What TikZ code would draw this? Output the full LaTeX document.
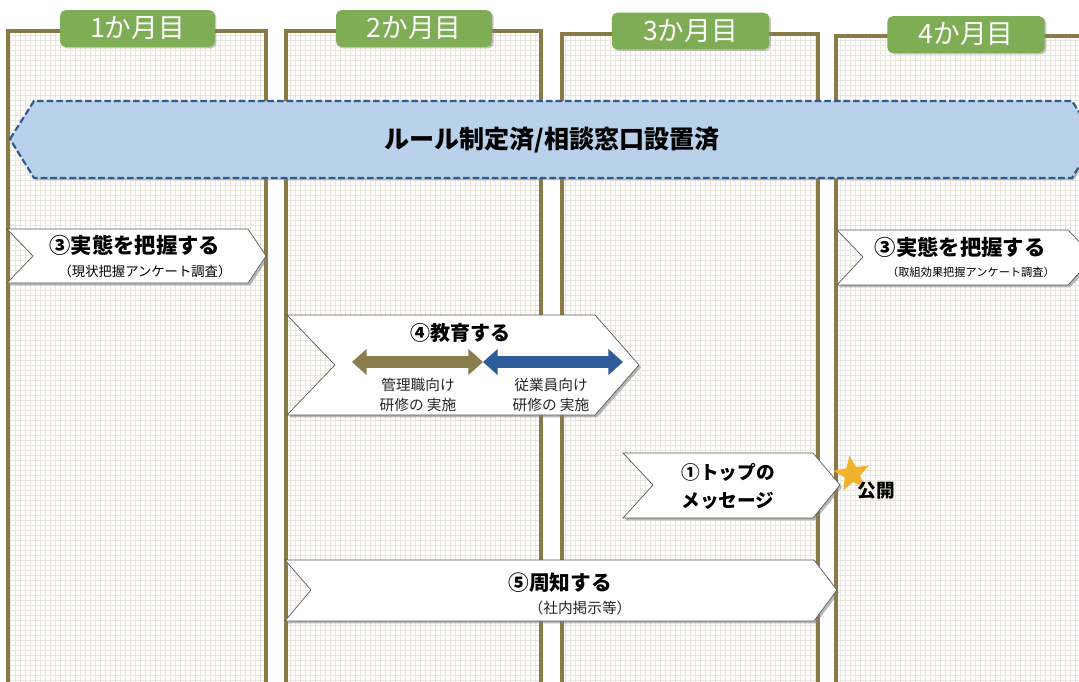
\documentclass[tikz,border=0pt]{standalone}
\usepackage{fontspec}
\setmainfont{Noto Sans CJK JP}
\usetikzlibrary{shadows,arrows.meta,shapes.geometric}
\definecolor{panelc}{HTML}{8A7A48}
\definecolor{gridc}{HTML}{EAE6DB}
\definecolor{tabg}{HTML}{7FAD55}
\definecolor{bannerf}{HTML}{B9D1EA}
\definecolor{bannerd}{HTML}{2E5B92}
\definecolor{brownarr}{HTML}{8B7D4E}
\definecolor{bluearr}{HTML}{2E5B9A}
\definecolor{starc}{HTML}{F2B22B}
\definecolor{chevd}{HTML}{555555}
\tikzset{
  panelline/.style={panelc, line width=2.4pt},
  tab/.style={fill=tabg, rounded corners=4pt, text=white, minimum height=27.5pt,
    inner sep=0pt, font=\fontsize{20}{22}\selectfont,
    drop shadow={shadow xshift=1.2pt, shadow yshift=-1.2pt, opacity=0.45}},
  banner/.style={fill=bannerf, draw=bannerd, line width=1.6pt, dash pattern=on 5pt off 2.2pt,
    drop shadow={shadow xshift=1.5pt, shadow yshift=-1.5pt, opacity=0.5}},
  chev/.style={fill=white, draw=chevd, line width=0.5pt,
    drop shadow={shadow xshift=1.5pt, shadow yshift=-1.8pt, opacity=0.55}},
  ttl/.style={inner sep=0pt, font=\bfseries\fontsize{16}{18}\selectfont},
  sub/.style={inner sep=0pt, font=\fontsize{10}{12}\selectfont},
  small/.style={inner sep=0pt, font=\fontsize{11}{15}\selectfont, text=black!85},
  dbl/.style={line width=9pt, {Triangle[width=19pt,length=11pt]}-{Triangle[width=19pt,length=11pt]}}
}
\begin{document}
\begin{tikzpicture}[x=0.75pt,y=-0.75pt]
\useasboundingbox (0,0) rectangle (1079,682);
\fill[white] (0,0) rectangle (1079,682);
% panels
\foreach \l/\r/\t in {8/266/31, 286/541/31, 562/818/34, 836/1100/36}{
  \draw[gridc, line width=0.3pt, step=3.75pt] (\l+2,690) grid (\r-2,\t+2);
  \draw[panelline] (\l,690) -- (\l,\t) -- (\r,\t) -- (\r,690);
}
% tabs
\node[tab, minimum width=116pt] (m1) at (137.5,28.5) {1か月目};
\node[tab, minimum width=117pt] (m2) at (414,28.5) {2か月目};
\node[tab, minimum width=118pt] (m3) at (690.5,31) {3か月目};
\node[tab, minimum width=118pt] (m4) at (966,34.5) {4か月目};
% banner
\draw[banner] (10,139) -- (34,101) -- (1072,101) -- (1096,139) -- (1072,178) -- (34,178) -- cycle;
\node[inner sep=0pt, font=\bfseries\fontsize{18.8}{20}\selectfont] (rule) at (552,140) {ルール制定済/相談窓口設置済};
% chevron 3 left
\draw[chev] (7,229) -- (248,229) -- (266,256) -- (248,283) -- (7,283) -- (33,256) -- cycle;
\node[ttl] (s3a) at (135,245) {③実態を把握する};
\node[sub] (s3as) at (145,271) {（現状把握アンケート調査）};
% chevron 3 right
\draw[chev] (837,230) -- (1068,230) -- (1094,257) -- (1068,285) -- (837,285) -- (863,257) -- cycle;
\node[ttl] (s3b) at (960,247) {③実態を把握する};
\node[sub, font=\fontsize{8.4}{10}\selectfont] (s3bs) at (971,272) {（取組効果把握アンケート調査）};
% chevron 4
\draw[chev] (287,315) -- (595,315) -- (639,365) -- (595,415) -- (287,415) -- (335,365) -- cycle;
\node[ttl, font=\bfseries\fontsize{15}{18}\selectfont] (s4) at (460,333) {④教育する};
\coordinate (a1) at (352,362);
\coordinate (a2) at (483,362);
\coordinate (a3) at (623,362);
\draw[dbl, brownarr] (a1) -- (a2);
\draw[dbl, bluearr] (a2) -- (a3);
\node[small, align=center] (mgr) at (418,395) {管理職向け\\研修の 実施};
\node[small, align=center] (emp) at (551,395) {従業員向け\\研修の 実施};
% chevron 1
\draw[chev] (623,453) -- (813,453) -- (840,485) -- (813,518) -- (623,518) -- (653,485) -- cycle;
\node[ttl, align=center, font=\bfseries\fontsize{14}{21}\selectfont] (s1) at (728,486) {①トップの\\メッセージ};
\node[star, star points=5, star point ratio=2.3, fill=starc, inner sep=0pt, minimum size=28pt, rotate=8] (st) at (852,474) {};
\node[ttl, font=\bfseries\fontsize{14}{16}\selectfont] (pub) at (876,491) {公開};
% chevron 5
\draw[chev] (285,560) -- (814,560) -- (837,590) -- (814,621) -- (285,621) -- (311,590) -- cycle;
\node[ttl, font=\bfseries\fontsize{15.5}{18}\selectfont] (s5) at (560,583) {⑤周知する};
\node[small] (s5s) at (580,608) {（社内掲示等）};
\end{tikzpicture}
\end{document}
